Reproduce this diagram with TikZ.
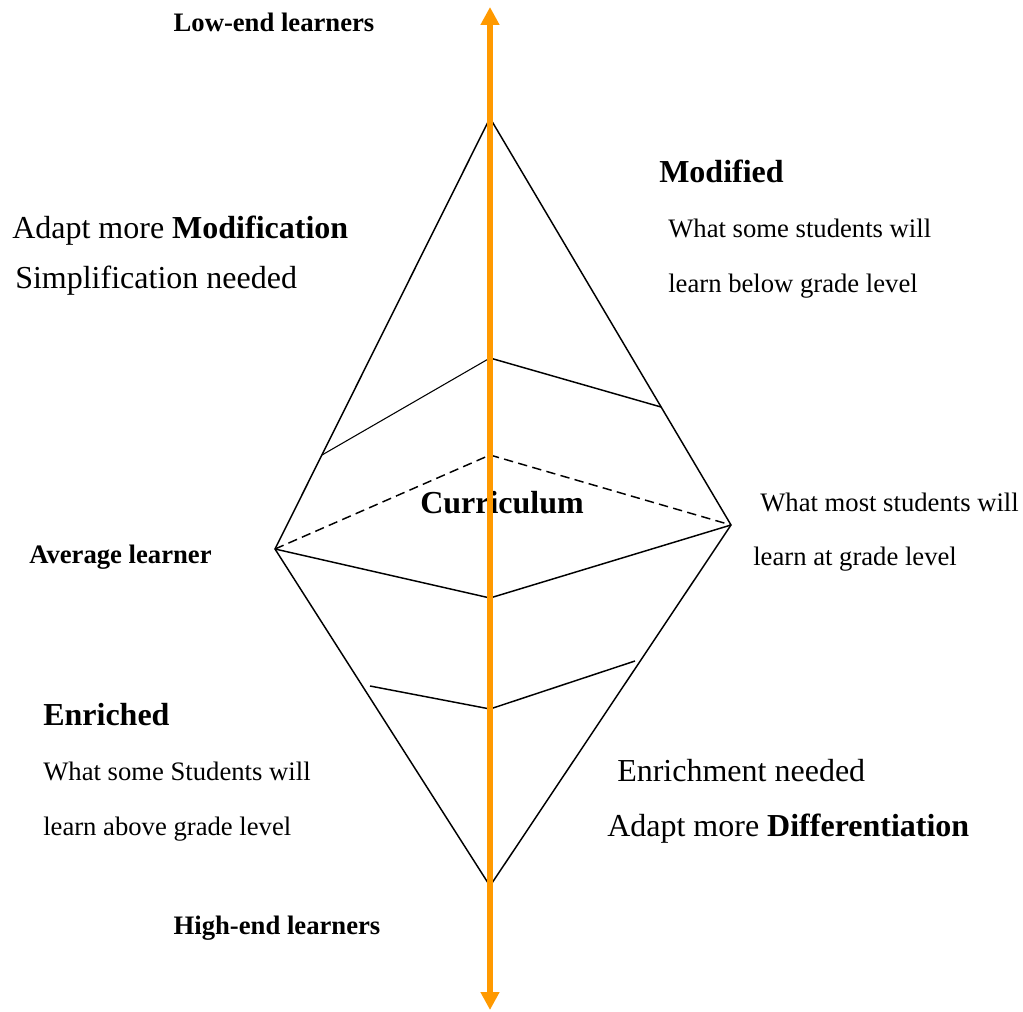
\documentclass[tikz,border=0pt]{standalone}
\usepackage{fontspec}
\IfFontExistsTF{LiberationSerif-Regular.ttf}{%
  \setmainfont{LiberationSerif}[Extension=.ttf, UprightFont=*-Regular, BoldFont=*-Bold, ItalicFont=*-Italic, BoldItalicFont=*-BoldItalic]}{%
  \setmainfont{Liberation Serif}[UprightFont={Liberation Serif:style=Regular}, BoldFont={Liberation Serif:style=Bold}]}
\usetikzlibrary{arrows.meta}
\definecolor{axisorange}{HTML}{FF9900}
\begin{document}
\begin{tikzpicture}[x=0.75pt,y=-0.75pt,
  edge/.style={line width=1.1pt, line join=miter},
  thinedge/.style={line width=0.8pt},
  dashedge/.style={line width=1.1pt, dash pattern=on 7pt off 4pt},
  big/.style={font=\fontsize{24}{28}\selectfont, inner sep=0pt, anchor=base west},
  small/.style={font=\fontsize{20}{24}\selectfont, inner sep=0pt, anchor=base west},
  bbig/.style={font=\fontsize{24}{28}\selectfont\bfseries, inner sep=0pt, anchor=base west},
  bsmall/.style={font=\fontsize{20}{24}\selectfont\bfseries, inner sep=0pt, anchor=base west},
  axisline/.style={draw=axisorange, line width=4.5pt,
    {Triangle[width=13.5pt,length=13.5pt]}-{Triangle[width=13.5pt,length=13.5pt]}}
]
\useasboundingbox (0,0) rectangle (1023,1012);

% diamond vertices
\coordinate (T) at (490,118);
\coordinate (L) at (275,549);
\coordinate (R) at (731,525);
\coordinate (B) at (490,886);
% inner lines
\coordinate (u1) at (322,455);
\coordinate (u2) at (490,358);
\coordinate (u3) at (661,407);
\coordinate (d2) at (490,455);
\coordinate (s2) at (490,598);
\coordinate (l1) at (370,686);
\coordinate (l2) at (490,709);
\coordinate (l3) at (635,661);
% axis ends
\coordinate (atop) at (490,7);
\coordinate (abot) at (490,1010);

% labels
\node[bsmall, anchor=base] (low) at (274,32) {Low-end learners};
\node[bbig] (modified) at (659,183) {Modified};
\node[small] (ws1) at (668,238) {What some students will};
\node[small] (ws2) at (668,292) {learn below grade level};
\node[big] (am1) at (12,239) {Adapt more \textbf{Modification}};
\node[big] (simp) at (15,289) {Simplification needed};
\node[bbig] (curr) at (420,513) {Curriculum};
\node[small] (wm1) at (760,511) {What most students will};
\node[small] (wm2) at (753,565) {learn at grade level};
\node[bsmall] (avg) at (29,563) {Average learner};
\node[bbig] (enr) at (43,725) {Enriched};
\node[small] (wss1) at (43,780) {What some Students will};
\node[small] (wss2) at (43,835) {learn above grade level};
\node[big] (enrn) at (617,781) {Enrichment needed};
\node[big] (amd) at (607,836) {Adapt more \textbf{Differentiation}};
\node[bsmall, anchor=base] (high) at (277,934) {High-end learners};

% diamond
\draw[edge] (T) -- (R) -- (B) -- (L) -- cycle;
\draw[thinedge] (u1) -- (u2);
\draw[edge] (u2) -- (u3);
\draw[dashedge] (L) -- (d2) -- (R);
\draw[edge] (L) -- (s2) -- (R);
\draw[edge] (l1) -- (l2) -- (l3);

% axis
\draw[axisline] (atop) -- (abot);
\end{tikzpicture}
\end{document}
